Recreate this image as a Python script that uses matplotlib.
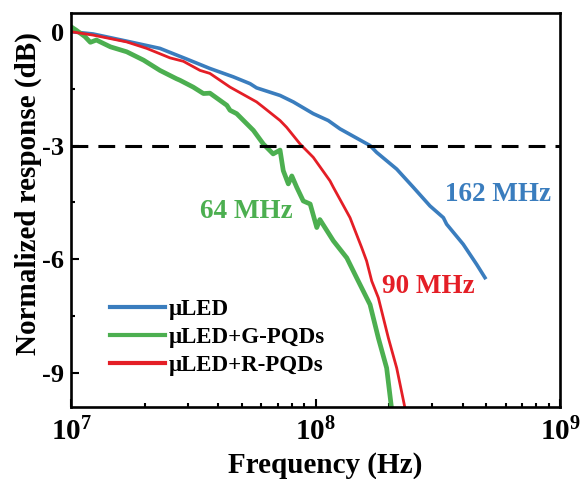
import numpy as np
import matplotlib
matplotlib.use("Agg")
import matplotlib.pyplot as plt

plt.rcParams['font.family'] = ['Liberation Serif', 'DejaVu Serif']
plt.rcParams['font.weight'] = 'bold'
plt.rcParams['axes.labelweight'] = 'bold'
plt.rcParams['mathtext.fontset'] = 'custom'
plt.rcParams['mathtext.rm'] = 'Liberation Serif:bold'
plt.rcParams['mathtext.bf'] = 'Liberation Serif:bold'
plt.rcParams['axes.unicode_minus'] = False

# frequency in MHz, response in dB
f_led = [10, 12.3, 16.9, 23.1, 29.7, 37.0, 46.1, 54.0, 57.4, 71.6, 81.1, 97.9,
         112.7, 125.9, 167.1, 177.8, 214.8, 251.2, 293.8, 333.4, 343.6, 401.8,
         456.0, 493.2]
db_led = [0.0, -0.06, -0.25, -0.44, -0.72, -0.97, -1.19, -1.37, -1.48, -1.68,
          -1.85, -2.16, -2.34, -2.56, -3.0, -3.18, -3.62, -4.10, -4.59, -4.90,
          -5.07, -5.60, -6.13, -6.48]

f_g = [10.0, 10.5, 11.4, 12.0, 12.7, 14.5, 16.9, 19.8, 23.1, 27.0, 27.9, 31.6,
       34.8, 37.0, 43.4, 44.7, 47.6, 55.7, 61.2, 67.1, 71.6, 73.8, 77.4, 80.0,
       83.8, 89.1, 95.1, 101.2, 104.2, 118.3, 134.3, 147.2, 167.1, 180.7,
       195.4, 204.6]
db_g = [0.13, 0.04, -0.13, -0.28, -0.22, -0.40, -0.53, -0.75, -1.02, -1.24,
        -1.28, -1.46, -1.63, -1.62, -1.94, -2.07, -2.16, -2.60, -2.96, -3.22,
        -3.12, -3.66, -4.01, -3.80, -4.10, -4.46, -4.54, -5.16, -4.95, -5.51,
        -5.96, -6.48, -7.19, -8.07, -8.86, -9.92]

f_r = [10, 12.3, 16.9, 20.4, 25.4, 28.8, 33.7, 37.0, 44.7, 57.4, 61.2, 71.6,
       76.2, 86.5, 97.9, 114.6, 118.3, 138.4, 154.5, 161.8, 169.8, 180.7,
       198.6, 214.8, 232.3]
db_r = [0.0, -0.09, -0.27, -0.44, -0.69, -0.78, -1.02, -1.10, -1.46, -1.85,
        -1.99, -2.34, -2.52, -2.96, -3.31, -3.93, -4.10, -4.90, -5.69, -6.04,
        -6.57, -7.01, -8.07, -8.86, -9.92]

c_blue = '#3a7dbe'
c_green = '#4caf50'
c_red = '#e41e26'

fig = plt.figure(figsize=(5.81, 4.79), dpi=100)
ax = fig.add_axes([0.1222, 0.1509, 0.8417, 0.8226])

mhz = 1e6
ax.plot(np.array(f_led) * mhz, db_led, color=c_blue, lw=2.6, label='μLED')
ax.plot(np.array(f_g) * mhz, db_g, color=c_green, lw=3.4, label='μLED+G-PQDs')
ax.plot(np.array(f_r) * mhz, db_r, color=c_red, lw=2.0, label='μLED+R-PQDs')
ax.axhline(-3, color='black', lw=2.2, dashes=(5.5, 3.3))

ax.set_xscale('log')
ax.set_xlim(1e7, 1e9)
ax.set_ylim(-9.88, 0.5)
ax.set_yticks([0, -3, -6, -9])
ax.set_yticks([-1.5, -4.5, -7.5], minor=True)

ax.tick_params(axis='both', which='both', direction='in', width=1.5)
ax.tick_params(axis='both', which='major', length=6)
ax.tick_params(axis='both', which='minor', length=3)
ax.tick_params(axis='y', which='major', labelsize=19, pad=5)
ax.tick_params(axis='x', which='major', labelsize=21, pad=8)
for s in ax.spines.values():
    s.set_linewidth(1.9)

ax.set_xlabel('Frequency (Hz)', fontsize=21, labelpad=4, x=0.52)
ax.set_ylabel('Normalized response (dB)', fontsize=21, labelpad=0, y=0.54)

ax.text(52e6, -4.75, '64 MHz', color=c_green, fontsize=19.5, ha='center', va='center')
ax.text(557e6, -4.30, '162 MHz', color=c_blue, fontsize=19.5, ha='center', va='center')
ax.text(288e6, -6.70, '90 MHz', color=c_red, fontsize=19.5, ha='center', va='center')

leg = ax.legend(loc='upper left', bbox_to_anchor=(0.06, 0.297), frameon=False,
                fontsize=16.5, handlelength=2.4, handletextpad=0.18,
                labelspacing=0.3, borderaxespad=0)
for line in leg.get_lines():
    line.set_linewidth(3)

fig.savefig('out.png', dpi=100)
